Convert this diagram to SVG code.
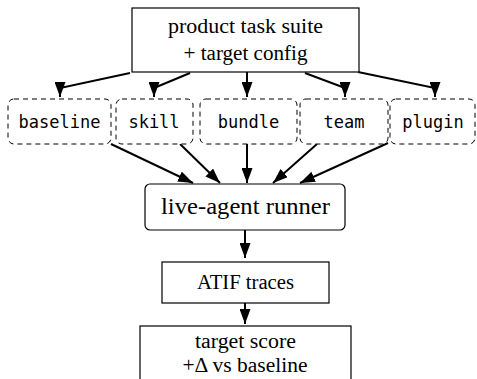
<svg xmlns="http://www.w3.org/2000/svg" width="477" height="379" viewBox="0 0 477 379">
<style>
.box{fill:#fff;stroke:#000;stroke-width:1.2}
.dash{fill:#fff;stroke:#000;stroke-width:1;stroke-dasharray:5 4}
.serif{font-family:"Liberation Serif","Times New Roman",serif;fill:#000;text-anchor:middle}
.mono{font-family:"DejaVu Sans Mono","Liberation Mono",monospace;font-size:17px;fill:#000;text-anchor:middle}
.edge{fill:none;stroke:#000;stroke-width:2;marker-end:url(#ah)}
</style>
<defs>
<marker id="ah" markerUnits="userSpaceOnUse" markerWidth="15" markerHeight="11" refX="15" refY="5.5" orient="auto" viewBox="0 0 15 11">
<path d="M0,0 L15,5.5 L0,11 z" fill="#000"/>
</marker>
</defs>
<g id="connectors">
<path class="edge" d="M130,73 L60,88 L60,97"/>
<path class="edge" d="M190,73 L154,88 L154,97"/>
<path class="edge" d="M247,72 L247,97"/>
<path class="edge" d="M305,73 L345,88 L345,97"/>
<path class="edge" d="M358,72 L435,88 L435,97"/>
<path class="edge" d="M111,144 L193,183"/>
<path class="edge" d="M180,144 L220,183"/>
<path class="edge" d="M247,144 L247,183"/>
<path class="edge" d="M317,144 L273,183"/>
<path class="edge" d="M388,143 L300,183"/>
<path class="edge" d="M245,230 L245,258"/>
<path class="edge" d="M245,303 L245,324"/>
</g>
<g id="suite">
<rect class="box" x="132" y="8" width="227" height="64"/>
<text class="serif" x="245.5" y="33" font-size="20.5" textLength="155" lengthAdjust="spacingAndGlyphs">product task suite</text>
<text class="serif" x="245.5" y="60" font-size="20.5" textLength="124" lengthAdjust="spacingAndGlyphs">+ target config</text>
</g>
<g id="baseline">
<rect class="dash" x="8" y="99" width="103" height="45" rx="6"/>
<text class="mono" x="59.5" y="128">baseline</text>
</g>
<g id="skill">
<rect class="dash" x="116" y="99" width="77" height="45" rx="6"/>
<text class="mono" x="154" y="128">skill</text>
</g>
<g id="bundle">
<rect class="dash" x="200" y="99" width="97" height="45" rx="6"/>
<text class="mono" x="248.5" y="128">bundle</text>
</g>
<g id="team">
<rect class="dash" x="300" y="99" width="88" height="45" rx="6"/>
<text class="mono" x="344" y="128">team</text>
</g>
<g id="plugin">
<rect class="dash" x="390" y="99" width="85" height="45" rx="6"/>
<text class="mono" x="433" y="128">plugin</text>
</g>
<g id="runner">
<rect class="box" x="145" y="184" width="200" height="46" rx="5"/>
<text class="serif" x="245.5" y="214" font-size="23" textLength="169" lengthAdjust="spacingAndGlyphs">live-agent runner</text>
</g>
<g id="atif">
<rect class="box" x="162" y="262" width="167" height="41"/>
<text class="serif" x="245.5" y="289" font-size="20" textLength="97" lengthAdjust="spacingAndGlyphs">ATIF traces</text>
</g>
<g id="score">
<rect class="box" x="140" y="326" width="211" height="62"/>
<text class="serif" x="245.5" y="348" font-size="20" textLength="101" lengthAdjust="spacingAndGlyphs">target score</text>
<text class="serif" x="245" y="372" font-size="20" textLength="125" lengthAdjust="spacingAndGlyphs">+Δ vs baseline</text>
</g>
</svg>
